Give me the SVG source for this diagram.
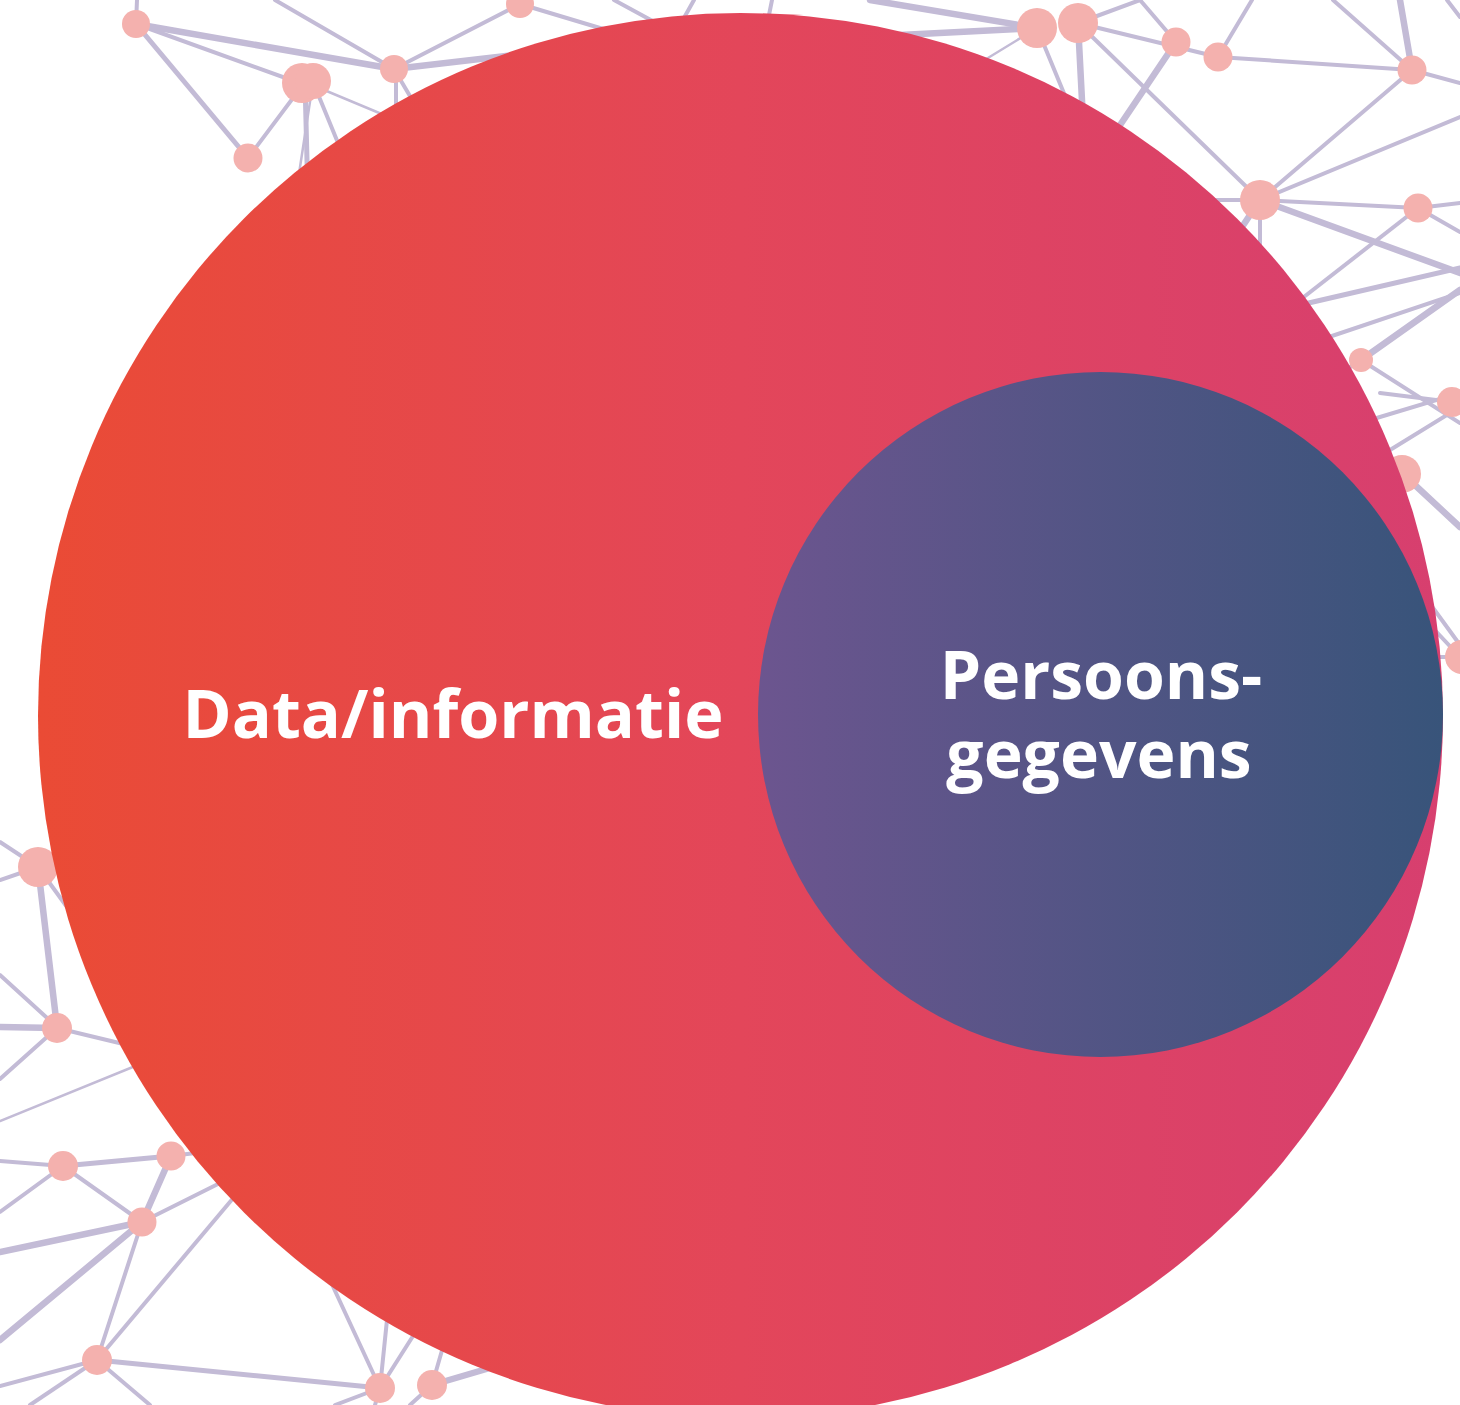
<svg xmlns="http://www.w3.org/2000/svg" width="1460" height="1405" viewBox="0 0 1460 1405">
<style>
.bg{fill:#ffffff}
.ln{stroke:#c3bbd6;stroke-width:4;stroke-linecap:round;fill:none}
.tk{stroke-width:6.5}
.tn{stroke-width:2.5}
.nd{fill:#f4b1ae}
.lbl{font-family:"Open Sans","Noto Sans","Liberation Sans",sans-serif;font-weight:700;fill:#ffffff;text-anchor:middle}
</style>
<defs>
<linearGradient id="gBig" x1="0" y1="0" x2="1" y2="0">
<stop offset="0" stop-color="#ea4b35"/>
<stop offset="0.5" stop-color="#e3465a"/>
<stop offset="1" stop-color="#d73f6f"/>
</linearGradient>
<linearGradient id="gSmall" x1="0" y1="0" x2="1" y2="0">
<stop offset="0" stop-color="#6c558f"/>
<stop offset="1" stop-color="#38547a"/>
</linearGradient>
</defs>
<rect class="bg" x="0" y="0" width="1460" height="1405"/>
<g id="connectors">
<line class="ln" x1="137" y1="0" x2="136" y2="24"/>
<line class="ln" x1="136" y1="24" x2="305" y2="85"/>
<line class="ln tk" x1="136" y1="24" x2="394" y2="69"/>
<line class="ln" x1="136" y1="24" x2="248" y2="158" style="stroke-width:5"/>
<line class="ln" x1="275" y1="0" x2="394" y2="69"/>
<line class="ln" x1="394" y1="69" x2="520" y2="4"/>
<line class="ln tk" x1="394" y1="69" x2="600" y2="45"/>
<line class="ln tn" x1="305" y1="82" x2="420" y2="130"/>
<line class="ln" x1="396" y1="69" x2="396" y2="130"/>
<line class="ln" x1="394" y1="69" x2="430" y2="130"/>
<line class="ln" x1="305" y1="82" x2="248" y2="158"/>
<line class="ln" x1="305" y1="82" x2="308" y2="200" style="stroke-width:5"/>
<line class="ln tn" x1="313" y1="82" x2="295" y2="200"/>
<line class="ln" x1="313" y1="82" x2="345" y2="160"/>
<line class="ln" x1="520" y1="4" x2="640" y2="40"/>
<line class="ln" x1="614" y1="0" x2="660" y2="25"/>
<line class="ln" x1="694" y1="0" x2="680" y2="25"/>
<line class="ln" x1="772" y1="0" x2="768" y2="20"/>
<line class="ln tk" x1="870" y1="0" x2="1037" y2="28"/>
<line class="ln tk" x1="1037" y1="28" x2="900" y2="35"/>
<line class="ln tn" x1="1037" y1="28" x2="960" y2="75"/>
<line class="ln" x1="1037" y1="28" x2="1075" y2="120"/>
<line class="ln tk" x1="1078" y1="23" x2="1083" y2="120"/>
<line class="ln" x1="1078" y1="23" x2="1140" y2="0"/>
<line class="ln" x1="1078" y1="23" x2="1218" y2="57"/>
<line class="ln" x1="1140" y1="0" x2="1176" y2="42"/>
<line class="ln tk" x1="1176" y1="42" x2="1110" y2="140"/>
<line class="ln" x1="1078" y1="23" x2="1260" y2="200"/>
<line class="ln" x1="1218" y1="57" x2="1252" y2="0"/>
<line class="ln" x1="1218" y1="57" x2="1412" y2="70"/>
<line class="ln" x1="1333" y1="0" x2="1412" y2="70"/>
<line class="ln tk" x1="1400" y1="0" x2="1412" y2="70"/>
<line class="ln" x1="1447" y1="0" x2="1460" y2="17"/>
<line class="ln" x1="1412" y1="70" x2="1460" y2="83"/>
<line class="ln" x1="1412" y1="70" x2="1260" y2="200"/>
<line class="ln" x1="1260" y1="200" x2="1460" y2="117"/>
<line class="ln" x1="1260" y1="200" x2="1418" y2="208"/>
<line class="ln" x1="1418" y1="208" x2="1460" y2="203"/>
<line class="ln tk" x1="1260" y1="200" x2="1460" y2="273"/>
<line class="ln" x1="1418" y1="208" x2="1300" y2="300"/>
<line class="ln" x1="1418" y1="208" x2="1460" y2="232"/>
<line class="ln" x1="1260" y1="200" x2="1200" y2="200"/>
<line class="ln" x1="1260" y1="200" x2="1260" y2="280"/>
<line class="ln tk" x1="1260" y1="200" x2="1220" y2="260"/>
<line class="ln" x1="1300" y1="305" x2="1460" y2="268" style="stroke-width:5"/>
<line class="ln" x1="1320" y1="340" x2="1460" y2="293"/>
<line class="ln tk" x1="1361" y1="360" x2="1460" y2="290"/>
<line class="ln" x1="1361" y1="360" x2="1460" y2="423"/>
<line class="ln" x1="1361" y1="360" x2="1330" y2="380"/>
<line class="ln" x1="1370" y1="420" x2="1460" y2="393"/>
<line class="ln" x1="1390" y1="450" x2="1460" y2="407"/>
<line class="ln" x1="1380" y1="393" x2="1452" y2="402"/>
<line class="ln tk" x1="1402" y1="473" x2="1460" y2="527"/>
<line class="ln" x1="1420" y1="590" x2="1460" y2="645"/>
<line class="ln" x1="1430" y1="625" x2="1460" y2="657"/>
<line class="ln" x1="1430" y1="657" x2="1460" y2="657"/>
<line class="ln" x1="0" y1="842" x2="38" y2="867"/>
<line class="ln" x1="0" y1="880" x2="38" y2="867"/>
<line class="ln" x1="38" y1="867" x2="70" y2="840"/>
<line class="ln tk" x1="38" y1="867" x2="57" y2="1027"/>
<line class="ln" x1="38" y1="867" x2="80" y2="925"/>
<line class="ln" x1="0" y1="975" x2="57" y2="1027"/>
<line class="ln tk" x1="0" y1="1027" x2="57" y2="1028"/>
<line class="ln" x1="57" y1="1028" x2="140" y2="1048"/>
<line class="ln" x1="57" y1="1028" x2="0" y2="1079"/>
<line class="ln tn" x1="0" y1="1121" x2="150" y2="1060"/>
<line class="ln" x1="0" y1="1161" x2="63" y2="1166"/>
<line class="ln" x1="63" y1="1166" x2="171" y2="1156" style="stroke-width:5"/>
<line class="ln" x1="63" y1="1166" x2="0" y2="1212"/>
<line class="ln" x1="63" y1="1166" x2="142" y2="1222"/>
<line class="ln tk" x1="171" y1="1156" x2="142" y2="1222"/>
<line class="ln" x1="142" y1="1222" x2="230" y2="1178"/>
<line class="ln tk" x1="0" y1="1252" x2="142" y2="1222"/>
<line class="ln tk" x1="142" y1="1222" x2="0" y2="1340"/>
<line class="ln" x1="142" y1="1222" x2="97" y2="1360"/>
<line class="ln" x1="97" y1="1360" x2="240" y2="1190"/>
<line class="ln" x1="97" y1="1360" x2="380" y2="1388" style="stroke-width:5"/>
<line class="ln" x1="97" y1="1360" x2="0" y2="1386"/>
<line class="ln" x1="97" y1="1360" x2="30" y2="1405"/>
<line class="ln" x1="97" y1="1360" x2="150" y2="1405"/>
<line class="ln" x1="171" y1="1156" x2="220" y2="1150"/>
<line class="ln" x1="380" y1="1388" x2="330" y2="1280"/>
<line class="ln" x1="380" y1="1388" x2="388" y2="1310"/>
<line class="ln" x1="380" y1="1388" x2="420" y2="1325"/>
<line class="ln" x1="432" y1="1385" x2="445" y2="1340"/>
<line class="ln tk" x1="432" y1="1385" x2="500" y2="1365"/>
<line class="ln" x1="380" y1="1388" x2="335" y2="1405"/>
<line class="ln" x1="380" y1="1388" x2="375" y2="1405"/>
<line class="ln" x1="432" y1="1385" x2="410" y2="1405"/>
</g>
<g id="network-nodes">
<circle class="nd" cx="136" cy="24" r="14"/>
<circle class="nd" cx="302" cy="83" r="20"/>
<circle class="nd" cx="313" cy="81" r="18"/>
<circle class="nd" cx="248" cy="158" r="14.5"/>
<circle class="nd" cx="394" cy="69" r="14"/>
<circle class="nd" cx="520" cy="4" r="14"/>
<circle class="nd" cx="1037" cy="28" r="20"/>
<circle class="nd" cx="1078" cy="23" r="20"/>
<circle class="nd" cx="1176" cy="42" r="14.5"/>
<circle class="nd" cx="1218" cy="57" r="14.5"/>
<circle class="nd" cx="1412" cy="70" r="14.5"/>
<circle class="nd" cx="1260" cy="200" r="20"/>
<circle class="nd" cx="1418" cy="208" r="14.5"/>
<circle class="nd" cx="1361" cy="360" r="12"/>
<circle class="nd" cx="1452" cy="402" r="15"/>
<circle class="nd" cx="1402" cy="474" r="19"/>
<circle class="nd" cx="1462" cy="657" r="17"/>
<circle class="nd" cx="38" cy="867" r="20"/>
<circle class="nd" cx="57" cy="1028" r="15"/>
<circle class="nd" cx="63" cy="1166" r="15"/>
<circle class="nd" cx="171" cy="1156" r="14.5"/>
<circle class="nd" cx="142" cy="1222" r="14.5"/>
<circle class="nd" cx="97" cy="1360" r="15"/>
<circle class="nd" cx="380" cy="1388" r="15"/>
<circle class="nd" cx="432" cy="1385" r="15"/>
</g>
<g id="node-data">
<circle cx="740.5" cy="715.5" r="702.5" fill="url(#gBig)"/>
<text class="lbl" x="453" y="738" font-size="66.5">Data/informatie</text>
</g>
<g id="node-persoonsgegevens">
<circle cx="1100.5" cy="714.5" r="342.5" fill="url(#gSmall)"/>
<text class="lbl" x="1101" y="699" font-size="66">Persoons-</text>
<text class="lbl" x="1099" y="778" font-size="66">gegevens</text>
</g>
</svg>
